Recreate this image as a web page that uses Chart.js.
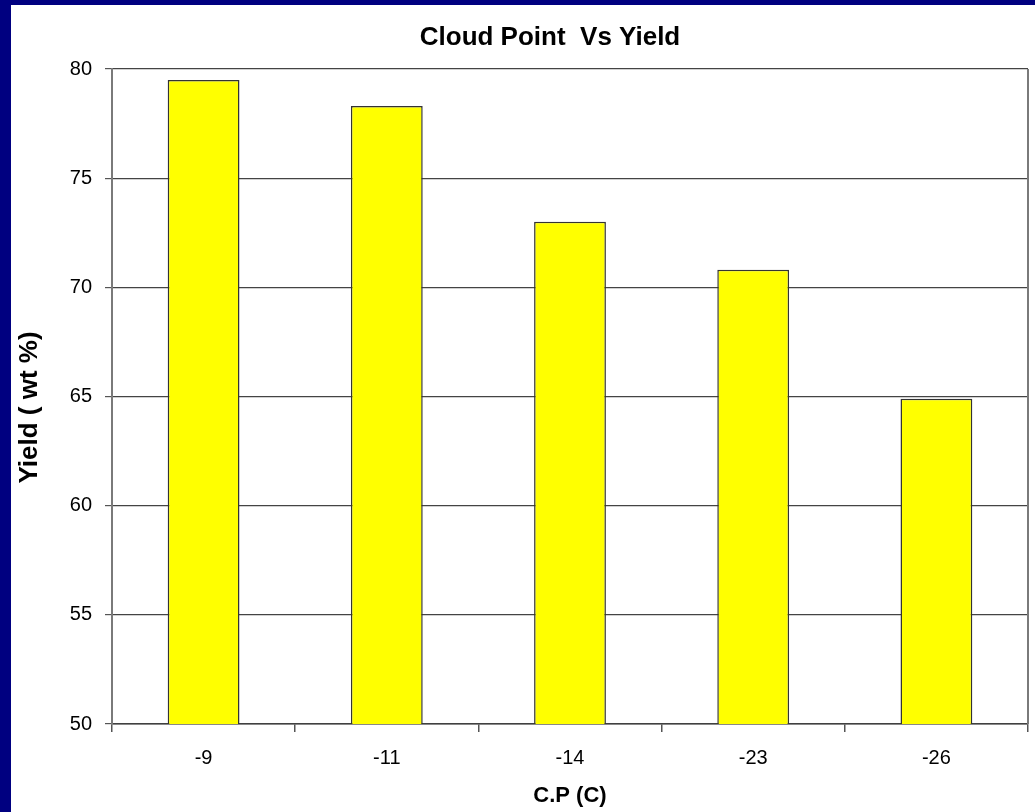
<!DOCTYPE html>
<html>
<head>
<meta charset="utf-8">
<style>
  html, body { margin: 0; padding: 0; background: #000080; }
  #wrap { position: absolute; left: 0; top: 0; width: 1035px; height: 812px; }
</style>
<script src="https://cdn.jsdelivr.net/npm/chart.js@4/dist/chart.umd.min.js"></script>
</head>
<body>
<div id="wrap"><canvas id="chart" width="1035" height="812"></canvas></div>
<script>
// Cloud point categories (°C) and the yield measured at each
const cloudPoints = ['-9', '-11', '-14', '-23', '-26'];
const yieldWtPct = [79.5, 78.3, 73.0, 70.8, 64.9];

const chartTitle = 'Cloud Point  Vs Yield';
const xTitle = 'C.P (C)';
const yTitle = 'Yield ( wt %)';

const FONT = '"Liberation Sans", Arial, Helvetica, sans-serif';

// Navy frame, white panel, plot border and the rotated/centred titles
const framePlugin = {
  id: 'frame',
  beforeDraw(chart) {
    const ctx = chart.ctx;
    ctx.save();
    ctx.fillStyle = '#000080';
    ctx.fillRect(0, 0, chart.width, chart.height);
    ctx.fillStyle = '#ffffff';
    ctx.fillRect(11, 5, chart.width - 11, chart.height - 5);
    ctx.restore();
  },
  afterDraw(chart) {
    const ctx = chart.ctx;
    const a = chart.chartArea;
    ctx.save();
    // right edge of the plot box
    ctx.strokeStyle = '#7a7a7a';
    ctx.lineWidth = 2;
    ctx.beginPath();
    ctx.moveTo(a.right, a.top);
    ctx.lineTo(a.right, a.bottom);
    ctx.stroke();

    ctx.fillStyle = '#000000';
    ctx.textAlign = 'center';
    ctx.textBaseline = 'middle';
    ctx.font = 'bold 26px ' + FONT;
    ctx.fillText(chartTitle, 550, 38);

    ctx.translate(30, (a.top + a.bottom) / 2 + 11);
    ctx.rotate(-Math.PI / 2);
    ctx.font = 'bold 26px ' + FONT;
    ctx.fillText(yTitle, 0, 0);
    ctx.restore();
  }
};

new Chart(document.getElementById('chart'), {
  type: 'bar',
  data: {
    labels: cloudPoints,
    datasets: [{
      data: yieldWtPct,
      backgroundColor: '#ffff00',
      borderColor: '#333333',
      borderWidth: 1.5,
      categoryPercentage: 1,
      barPercentage: 0.392
    }]
  },
  options: {
    responsive: false,
    animation: false,
    devicePixelRatio: 1,
    layout: { padding: { left: 0, top: 69, right: 7, bottom: 0 } },
    plugins: {
      legend: { display: false },
      title: { display: false },
      tooltip: { enabled: false }
    },
    scales: {
      x: {
        offset: true,
        afterFit(s) { s.height = 88; },
        grid: {
          offset: true,
          drawOnChartArea: false,
          drawTicks: true,
          tickLength: 8,
          tickColor: '#555555',
          lineWidth: 1.5
        },
        border: { color: '#404040', width: 1.5 },
        ticks: {
          color: '#000000',
          font: { family: FONT, size: 20 },
          padding: 14
        },
        title: {
          display: true,
          text: xTitle,
          color: '#000000',
          font: { family: FONT, size: 22, weight: 'bold' },
          padding: { top: 0, bottom: 3 }
        }
      },
      y: {
        min: 50,
        max: 80,
        afterFit(s) { s.width = 112; },
        grid: {
          color: '#444444',
          lineWidth: 1.2,
          tickLength: 7,
          tickColor: '#555555'
        },
        border: { color: '#7a7a7a', width: 2 },
        ticks: {
          stepSize: 5,
          color: '#000000',
          font: { family: FONT, size: 20 },
          padding: 13
        }
      }
    }
  },
  plugins: [framePlugin]
});
</script>
</body>
</html>
